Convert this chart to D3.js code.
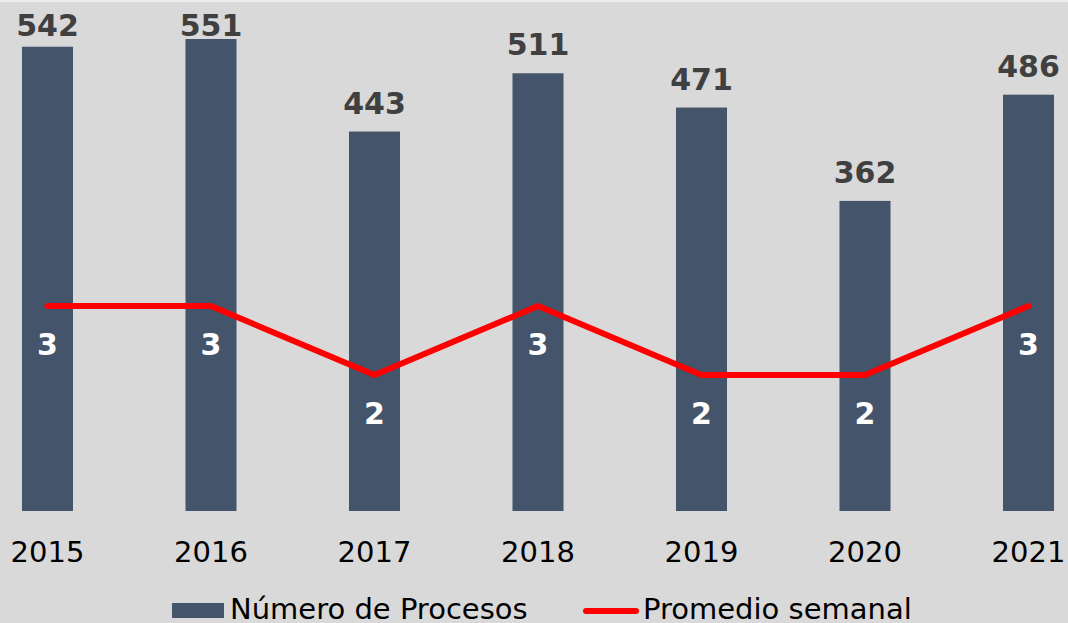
<!DOCTYPE html>
<html>
<head>
<meta charset="utf-8">
<script src="https://cdn.jsdelivr.net/npm/d3@7"></script>
<style>
  body { margin: 0; background: #d9d9d9; }
  svg { display: block; font-family: "DejaVu Sans", Verdana, sans-serif; }
</style>
</head>
<body>
<div id="chart"></div>
<script>
var years = ["2015", "2016", "2017", "2018", "2019", "2020", "2021"];
var procesos = [542, 551, 443, 511, 471, 362, 486];
var promedio = [3, 3, 2, 3, 2, 2, 3];

var width = 1068, height = 623;

var svg = d3.select("#chart").append("svg")
    .attr("width", width)
    .attr("height", height);

svg.append("rect")
    .attr("width", width).attr("height", height)
    .attr("fill", "#d9d9d9");
svg.append("rect")
    .attr("width", width).attr("height", 2)
    .attr("fill", "#ebebeb");

var xScale = d3.scaleBand()
    .domain(years)
    .range([-34.25, 1110.25])
    .paddingInner(0.688)
    .paddingOuter(0.344);

var yScale = d3.scaleLinear()
    .domain([0, 600])
    .range([511, 511 - 600 * 0.8566]);

var y2Scale = d3.scaleLinear()
    .domain([0, 7.5])
    .range([513, 513 - 7.5 * 69]);

var data = years.map(function(y, i) {
  return {year: y, n: procesos[i], avg: promedio[i]};
});

// bars
svg.selectAll(".bars")
  .data(data)
  .enter()
  .append("rect")
    .attr("class", "bars")
    .attr("x", function(d) { return xScale(d.year); })
    .attr("width", xScale.bandwidth())
    .attr("y", function(d) { return yScale(d.n); })
    .attr("height", function(d) { return yScale(0) - yScale(d.n); })
    .style("fill", "#44546a");

// bar labels
svg.selectAll(".barLabel")
  .data(data)
  .enter()
  .append("text")
    .attr("class", "barLabel")
    .attr("x", function(d) { return xScale(d.year) + xScale.bandwidth() / 2; })
    .attr("y", function(d) { return Math.max(yScale(d.n) - 18, 36); })
    .attr("text-anchor", "middle")
    .style("font-size", "30px")
    .style("font-weight", "bold")
    .style("fill", "#404040")
    .text(function(d) { return d.n; });

// x axis
var xAxis = svg.append("g")
    .attr("transform", "translate(0,511)")
    .call(d3.axisBottom(xScale).tickSize(0).tickPadding(0));
xAxis.select(".domain").remove();
xAxis.selectAll("text")
    .attr("dy", null)
    .attr("y", 51)
    .style("font-size", "29px")
    .style("font-family", "DejaVu Sans, Verdana, sans-serif")
    .style("fill", "#000");

// line
var line = d3.line()
    .x(function(d) { return xScale(d.year) + xScale.bandwidth() / 2; })
    .y(function(d) { return y2Scale(d.avg); });

svg.append("path")
    .datum(data)
    .attr("d", line)
    .attr("fill", "none")
    .attr("stroke", "#ff0000")
    .attr("stroke-width", 6)
    .attr("stroke-linecap", "round")
    .attr("stroke-linejoin", "round");

svg.selectAll(".lineLabel")
  .data(data)
  .enter()
  .append("text")
    .attr("class", "lineLabel")
    .attr("x", function(d) { return xScale(d.year) + xScale.bandwidth() / 2; })
    .attr("y", function(d) { return y2Scale(d.avg) + 49; })
    .attr("text-anchor", "middle")
    .style("font-size", "30px")
    .style("font-weight", "bold")
    .style("fill", "#ffffff")
    .text(function(d) { return d.avg; });

// legend
var legend = svg.append("g");
legend.append("rect")
    .attr("x", 172).attr("y", 603)
    .attr("width", 52).attr("height", 15)
    .attr("fill", "#44546a");
legend.append("text")
    .attr("x", 230).attr("y", 619)
    .style("font-size", "29px")
    .style("fill", "#000")
    .text("Número de Procesos");
legend.append("line")
    .attr("x1", 586).attr("x2", 636)
    .attr("y1", 611).attr("y2", 611)
    .attr("stroke", "#ff0000")
    .attr("stroke-width", 6)
    .attr("stroke-linecap", "round");
legend.append("text")
    .attr("x", 643).attr("y", 619)
    .style("font-size", "29px")
    .style("fill", "#000")
    .text("Promedio semanal");
</script>
</body>
</html>
